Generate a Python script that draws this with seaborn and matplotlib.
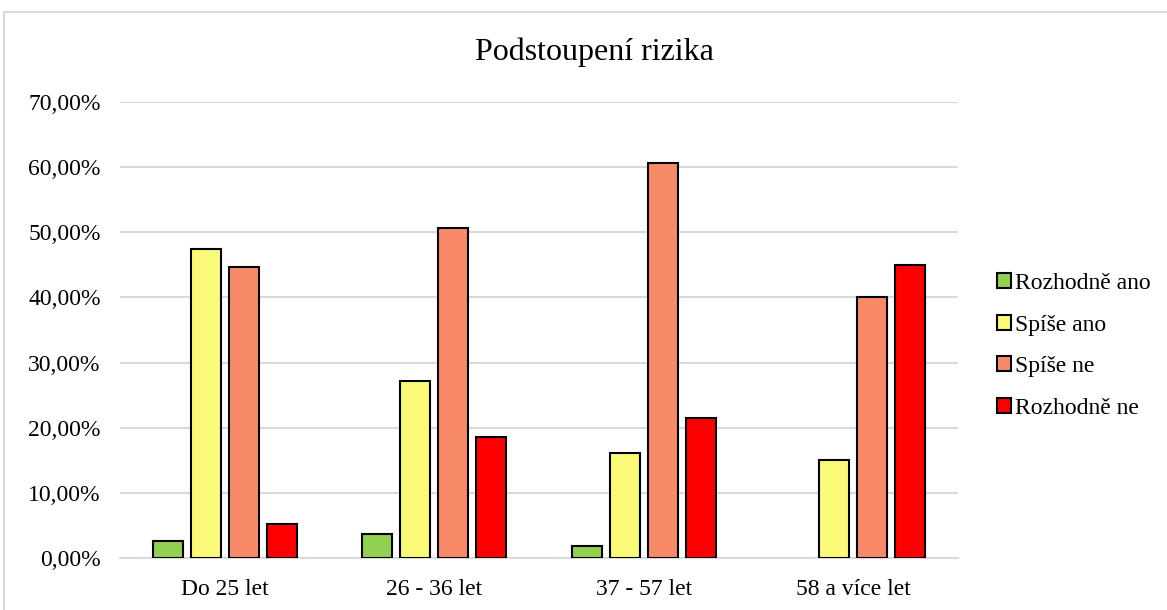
import pandas as pd
import numpy as np
import matplotlib as mpl
from matplotlib import pyplot as plt
from matplotlib.ticker import FuncFormatter
import seaborn as sns

# data (share of respondents, %)
age_groups = ["Do 25 let", "26 - 36 let", "37 - 57 let", "58 a více let"]
answers = ["Rozhodně ano", "Spíše ano", "Spíše ne", "Rozhodně ne"]
rozhodne_ano = [2.63, 3.70, 1.79, 0.00]
spise_ano = [47.37, 27.16, 16.07, 15.00]
spise_ne = [44.74, 50.62, 60.71, 40.00]
rozhodne_ne = [5.26, 18.52, 21.43, 45.00]
colors = ["#92D050", "#FAFA78", "#F88A68", "#FF0000"]

df = pd.DataFrame({
    "Věk": age_groups * 4,
    "Odpověď": np.repeat(answers, len(age_groups)),
    "Podíl": rozhodne_ano + spise_ano + spise_ne + rozhodne_ne,
})

sns.set_style("white")
plt.rcParams["font.family"] = ["Liberation Serif", "DejaVu Serif"]
plt.rcParams["text.color"] = "black"
plt.rcParams["xtick.color"] = "black"
plt.rcParams["ytick.color"] = "black"

fig = plt.figure(figsize=(11.67, 6.10), dpi=100)
ax = fig.add_axes([120 / 1167, 1 - 558 / 610, 838 / 1167, 456 / 610])

# light grey chart frame
fig.patches.append(mpl.patches.Rectangle(
    (4 / 1167, -0.01), 1.0, 1 - 12 / 610 + 0.01, transform=fig.transFigure,
    fill=False, edgecolor="#D9D9D9", linewidth=1.5, zorder=0))

sns.barplot(data=df, x="Věk", y="Podíl", hue="Odpověď", hue_order=answers,
            palette=dict(zip(answers, colors)), saturation=1, width=0.725, gap=0.21,
            edgecolor="black", linewidth=1.5, ax=ax, zorder=3)

# zero-height bars are not drawn in the original
for bars in ax.containers:
    for p in bars:
        if p.get_height() == 0:
            p.set_visible(False)

ax.set_ylim(0, 70)
ax.set_xlim(-0.5, 3.5)
ax.set_yticks(np.arange(0, 71, 10))
ax.yaxis.set_major_formatter(FuncFormatter(lambda v, p: f"{v:.2f}%".replace(".", ",")))
ax.grid(axis="y", color="#D9D9D9", linewidth=1.5, zorder=0)
ax.set_axisbelow(True)
for s in ["top", "right", "left"]:
    ax.spines[s].set_visible(False)
ax.spines["bottom"].set_color("#D9D9D9")
ax.spines["bottom"].set_linewidth(1.5)
ax.tick_params(axis="y", length=0, pad=14, labelsize=17)
ax.tick_params(axis="x", length=0, pad=15, labelsize=17)
ax.set_xlabel("")
ax.set_ylabel("")

fig.text(594 / 1167, 1 - 52 / 610, "Podstoupení rizika", ha="center", va="center", fontsize=23)

handles, labels = ax.get_legend_handles_labels()
ax.legend(handles, labels, loc="center left", bbox_to_anchor=(997 / 1167, 1 - 346 / 610),
          bbox_transform=fig.transFigure, frameon=False, fontsize=17,
          handlelength=0.6, handleheight=0.6, handletextpad=0.15, labelspacing=0.87,
          borderaxespad=0, borderpad=0)

plt.savefig("out.png", dpi=100)
